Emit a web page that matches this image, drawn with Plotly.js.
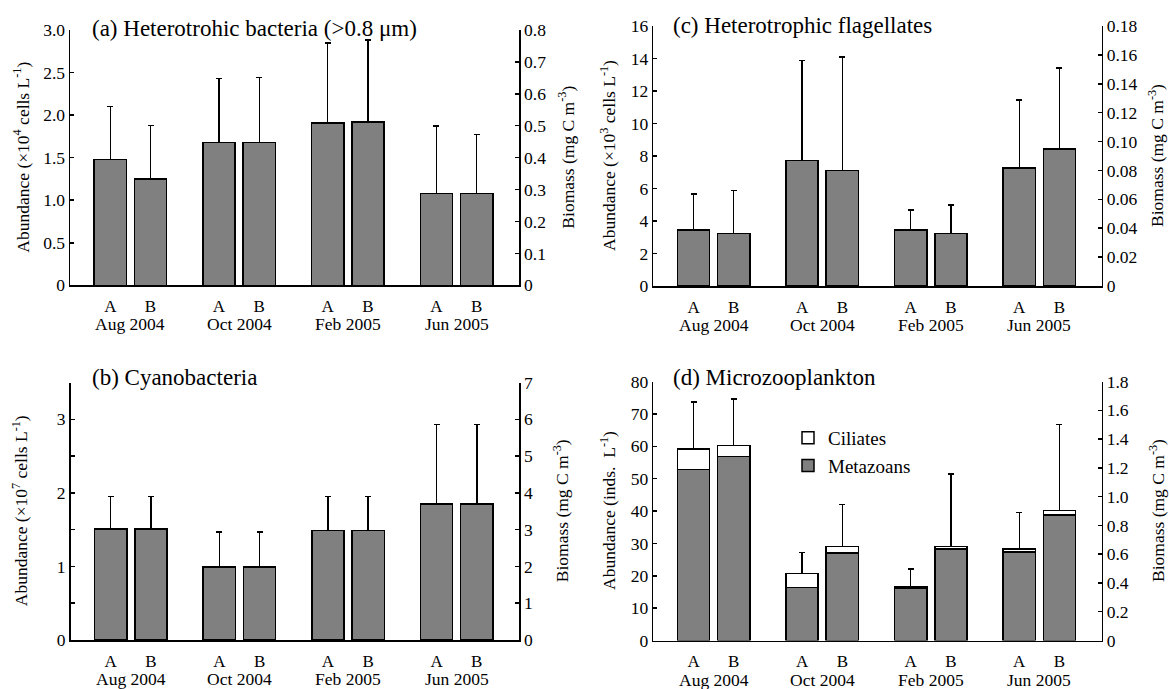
<!DOCTYPE html>
<html>
<head>
<meta charset="utf-8">
<script src="https://cdn.plot.ly/plotly-3.0.1.min.js"></script>
<style>html,body{margin:0;padding:0;background:#fff;}#chart{width:1169px;height:689px;}</style>
</head>
<body>
<div id="chart"></div>
<script>
// ---------- data ----------
const months = ['Aug 2004', 'Oct 2004', 'Feb 2005', 'Jun 2005'];
const sites = ['A', 'B'];

// (a) Heterotrophic bacteria, abundance x10^4 cells/L : mean and SD (A,B per month)
const bactMean = [1.48, 1.25, 1.68, 1.68, 1.905, 1.92, 1.08, 1.08];
const bactSD   = [0.62, 0.63, 0.75, 0.76, 0.945, 0.96, 0.79, 0.69];

// (b) Cyanobacteria, x10^7 cells/L
const cyanoMean = [1.51, 1.51, 0.99, 0.99, 1.49, 1.49, 1.85, 1.85];
const cyanoSD   = [0.44, 0.44, 0.48, 0.48, 0.46, 0.46, 1.08, 1.08];

// (c) Heterotrophic flagellates, x10^3 cells/L
const flagMean = [3.45, 3.22, 7.72, 7.11, 3.45, 3.22, 7.27, 8.42];
const flagSD   = [2.22, 2.65, 6.15, 6.99, 1.22, 1.75, 4.18, 5.00];

// (d) Microzooplankton, inds/L
const metazoans = [52.8, 56.8, 16.4, 27.1, 16.0, 28.2, 27.3, 38.7];
const ciliates  = [6.4, 3.5, 4.3, 1.9, 0.6, 0.8, 1.0, 1.4];
const microSD   = [14.5, 14.3, 6.5, 13.0, 5.5, 22.4, 11.2, 26.6];

// axis tick labels
const bactTicks   = ['0', '0.5', '1.0', '1.5', '2.0', '2.5', '3.0'];
const bactBioTicks = ['0', '0.1', '0.2', '0.3', '0.4', '0.5', '0.6', '0.7', '0.8'];
const cyanoTicks  = ['0', '1', '2', '3'];
const cyanoMinorTicks = [0.5, 1.5, 2.5, 3.5];
const cyanoBioTicks = ['0', '1', '2', '3', '4', '5', '6', '7'];
const flagTicks   = ['0', '2', '4', '6', '8', '10', '12', '14', '16'];
const flagBioTicks = ['0', '0.02', '0.04', '0.06', '0.08', '0.10', '0.12', '0.14', '0.16', '0.18'];
const microTicks  = ['0', '10', '20', '30', '40', '50', '60', '70', '80'];
const microBioTicks = ['0', '0.2', '0.4', '0.6', '0.8', '1.0', '1.2', '1.4', '1.6', '1.8'];

// ---------- layout helpers ----------
const W = 1169, H = 689;
const FONT = 'Liberation Serif, Times New Roman, serif';
const GROUP_STEP = 2.7;
const xpos = [];
const xlab = [];
months.forEach((m, g) => sites.forEach((s, k) => { xpos.push(g * GROUP_STEP + k); xlab.push(s); }));
const groupCenters = months.map((m, g) => g * GROUP_STEP + 0.5);
const XR = [-1, 10.15];
const px = v => v / W;
const py = v => 1 - v / H;

function valsOf(labels, step) { return labels.map((t, i) => i * step); }

function xAxis(dom, yname) {
  return {
    domain: [px(dom[0]), px(dom[1])], range: XR, anchor: yname,
    showline: true, linecolor: '#000', linewidth: 1.5, mirror: false,
    ticks: 'outside', ticklen: 5, tickcolor: 'rgba(0,0,0,0)',
    tickvals: xpos, ticktext: xlab, tickfont: {family: FONT, size: 17, color: '#000'},
    showgrid: false, zeroline: false, fixedrange: true
  };
}
function yAxis(dom, xname, labels, step, side, overlay, top) {
  const a = {
    range: [0, top !== undefined ? top : (labels.length - 1) * step], anchor: xname, side: side,
    tickvals: valsOf(labels, step), ticktext: labels,
    ticks: 'inside', ticklen: 4, tickwidth: 1.5, tickcolor: '#000',
    showline: true, linecolor: '#000', linewidth: 1.5,
    tickfont: {family: FONT, size: 17.5, color: '#000'},
    showgrid: false, zeroline: false, fixedrange: true
  };
  if (overlay) a.overlaying = overlay; else a.domain = [py(dom[1]), py(dom[0])];
  return a;
}

const panels = {
  a: {xd: [70, 519], yd: [30, 285.3]},
  c: {xd: [653.3, 1101.7], yd: [26, 286]},
  b: {xd: [70.5, 519], yd: [382.5, 640]},
  d: {xd: [653.3, 1101.7], yd: [381.5, 640.5]}
};

function barTrace(y, sd, xa, ya) {
  return {
    type: 'bar', x: xpos, y: y, width: 0.8, xaxis: xa, yaxis: ya, showlegend: false,
    marker: {color: '#808080', line: {color: '#000', width: 1.5}},
    error_y: {type: 'data', symmetric: false, array: sd, arrayminus: sd.map(() => 0),
              color: '#000', thickness: 1.5, width: 3},
    hoverinfo: 'y'
  };
}
function dummy(xa, ya) {
  return {type: 'scatter', mode: 'markers', x: [null], y: [null], xaxis: xa, yaxis: ya,
          showlegend: false, hoverinfo: 'skip'};
}

const data = [
  barTrace(bactMean, bactSD, 'x', 'y'), dummy('x', 'y2'),
  barTrace(flagMean, flagSD, 'x2', 'y3'), dummy('x2', 'y4'),
  barTrace(cyanoMean, cyanoSD, 'x3', 'y5'), dummy('x3', 'y6'),
  {type: 'bar', name: 'Metazoans', x: xpos, y: metazoans, width: 0.8, xaxis: 'x4', yaxis: 'y7',
   marker: {color: '#808080', line: {color: '#000', width: 1.5}}},
  {type: 'bar', name: 'Ciliates', x: xpos, y: ciliates, width: 0.8, xaxis: 'x4', yaxis: 'y7',
   marker: {color: '#ffffff', line: {color: '#000', width: 1.5}},
   error_y: {type: 'data', symmetric: false, array: microSD, arrayminus: microSD.map(() => 0),
             color: '#000', thickness: 1.5, width: 3}},
  dummy('x4', 'y8')
];

const ann = [];
function addTitle(text, x, y) {
  ann.push({text: text, xref: 'paper', yref: 'paper', x: px(x), y: py(y), xanchor: 'left', yanchor: 'middle',
            showarrow: false, font: {family: FONT, size: 23, color: '#000'}});
}
function addYTitle(text, x, p) {
  const yc = (p.yd[0] + p.yd[1]) / 2;
  ann.push({text: text, xref: 'paper', yref: 'paper', x: px(x), y: py(yc), xanchor: 'center', yanchor: 'middle',
            textangle: -90, showarrow: false, font: {family: FONT, size: 17.5, color: '#000'}});
}
function addMonths(xa, p) {
  months.forEach((m, g) => ann.push({text: m, xref: xa, yref: 'paper', x: groupCenters[g], y: py(p.yd[1] + 39),
    xanchor: 'center', yanchor: 'middle', showarrow: false, font: {family: FONT, size: 17.5, color: '#000'}}));
}
addTitle('(a) Heterotrohic bacteria (&gt;0.8 μm)', 90, 28);
addTitle('(c) Heterotrophic flagellates', 671, 25);
addTitle('(b) Cyanobacteria', 90, 377);
addTitle('(d) Microzooplankton', 671, 377);
addYTitle('Abundance (×10<sup>4</sup> cells L<sup>-1</sup>)', 21, panels.a);
addYTitle('Biomass (mg C m<sup>-3</sup>)', 566, panels.a);
addYTitle('Abundance (×10<sup>3</sup> cells L<sup>-1</sup>)', 608, panels.c);
addYTitle('Biomass (mg C m<sup>-3</sup>)', 1156, panels.c);
addYTitle('Abundance (×10<sup>7</sup> cells L<sup>-1</sup>)', 20, panels.b);
addYTitle('Biomass (mg C m<sup>-3</sup>)', 561, panels.b);
addYTitle('Abundance (inds.  L<sup>-1</sup>)', 608, panels.d);
addYTitle('Biomass (mg C m<sup>-3</sup>)', 1157, panels.d);
addMonths('x', panels.a);
addMonths('x2', panels.c);
addMonths('x3', panels.b);
addMonths('x4', panels.d);

const yCyano = yAxis(panels.b.yd, 'x3', cyanoTicks, 1, 'left', null, 3.5);
yCyano.minor = {tickmode: 'array', tickvals: cyanoMinorTicks, ticks: 'inside', ticklen: 4, tickwidth: 1.5,
                tickcolor: '#000', showgrid: false};

const layout = {
  width: W, height: H, margin: {l: 0, r: 0, t: 0, b: 0, pad: 0},
  paper_bgcolor: '#fff', plot_bgcolor: 'rgba(0,0,0,0)',
  font: {family: FONT, color: '#000'},
  barmode: 'stack', bargap: 0,
  showlegend: true,
  legend: {x: px(788), y: py(419), xanchor: 'left', yanchor: 'top', traceorder: 'reversed',
           font: {family: FONT, size: 19, color: '#000'}, bgcolor: 'rgba(0,0,0,0)', borderwidth: 0},
  xaxis: xAxis(panels.a.xd, 'y'),
  yaxis: yAxis(panels.a.yd, 'x', bactTicks, 0.5, 'left'),
  yaxis2: yAxis(panels.a.yd, 'x', bactBioTicks, 0.1, 'right', 'y'),
  xaxis2: xAxis(panels.c.xd, 'y3'),
  yaxis3: yAxis(panels.c.yd, 'x2', flagTicks, 2, 'left'),
  yaxis4: yAxis(panels.c.yd, 'x2', flagBioTicks, 0.02, 'right', 'y3'),
  xaxis3: xAxis(panels.b.xd, 'y5'),
  yaxis5: yCyano,
  yaxis6: yAxis(panels.b.yd, 'x3', cyanoBioTicks, 1, 'right', 'y5'),
  xaxis4: xAxis(panels.d.xd, 'y7'),
  yaxis7: yAxis(panels.d.yd, 'x4', microTicks, 10, 'left'),
  yaxis8: yAxis(panels.d.yd, 'x4', microBioTicks, 0.2, 'right', 'y7'),
  annotations: ann
};

Plotly.newPlot('chart', data, layout, {staticPlot: true, displayModeBar: false});
</script>
</body>
</html>
